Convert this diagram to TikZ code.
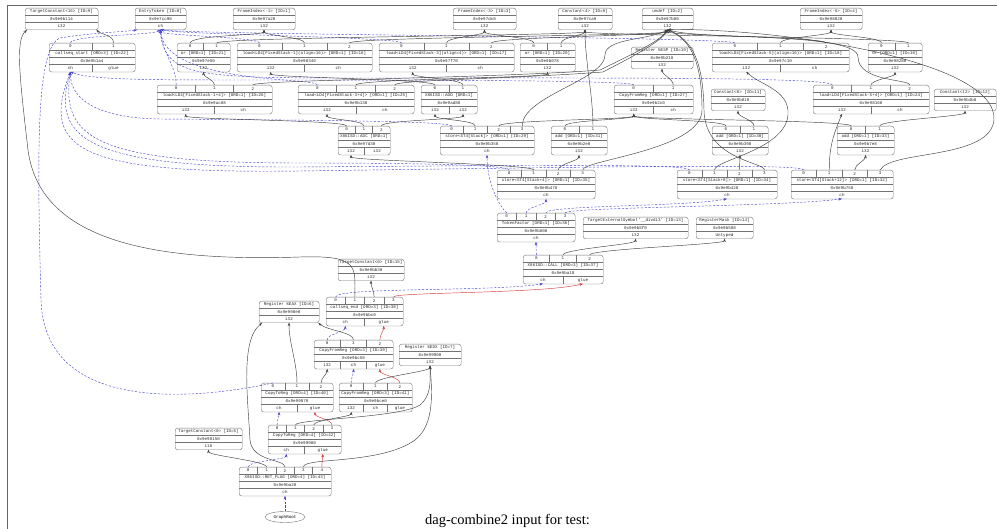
\documentclass[tikz,border=0pt]{standalone}
\usepackage{fontspec}
\newfontfamily\recfont{Liberation Mono}
\newfontfamily\capfont{Liberation Serif}
\usetikzlibrary{shapes.geometric,arrows.meta}
\definecolor{chainblue}{RGB}{70,70,205}
\definecolor{gluered}{RGB}{215,60,60}
\newcommand{\recsize}{\fontsize{4.2}{5}\selectfont}
\newcommand{\rowh}{7.2}
\tikzset{
  recbox/.style={draw=black!55,rounded corners=2.5pt,inner sep=0pt,line width=0.4pt},
  recline/.style={draw=black!55,line width=0.4pt},
  rectxt/.style={font=\recfont\recsize,text=black!85,inner sep=0pt},
  rootnode/.style={ellipse,draw=black!55,minimum width=40pt,minimum height=11pt,inner sep=0pt,font=\recfont\recsize},
  val/.style={draw=black!75,line width=0.45pt,->},
  chain/.style={draw=chainblue,dash pattern=on 2.2pt off 1.6pt,line width=0.45pt,->},
  glue/.style={draw=gluered,line width=0.45pt,->},
  frameline/.style={draw=black!60,line width=0.5pt},
  captxt/.style={font=\capfont\fontsize{14.5}{16}\selectfont,anchor=base,inner sep=0pt}
}
% record: name, left, top, width, number of operands, title, address, results
\newcommand{\recnode}[8]{%
  \pgfmathsetmacro\rl{#2}\pgfmathsetmacro\rt{#3}\pgfmathsetmacro\rw{#4}%
  \ifnum#5>0 \pgfmathsetmacro\rtop{\rt+\rowh}\else\pgfmathsetmacro\rtop{\rt}\fi
  \pgfmathsetmacro\rbot{\rtop+3*\rowh}%
  \pgfmathsetmacro\rht{\rbot-\rt}%
  \pgfmathsetmacro\rc{\rl+\rw/2}%
  \node[recbox,minimum width=\rw pt,minimum height=\rht pt,anchor=north west] (#1) at (\rl,\rt) {};
  \ifnum#5>0
    \draw[recline] (\rl,\rtop) -- ++(\rw,0);
    \foreach \rp in {1,...,#5}{%
      \pgfmathsetmacro\rcl{\rl+(\rp-1)*\rw/#5}%
      \pgfmathtruncatemacro\rj{\rp-1}%
      \node[rectxt] at (\rcl+\rw/#5/2,\rt+\rowh/2) {\rj};
      \coordinate (#1-i\rj) at (\rcl+\rw/#5/2,\rt);
      \ifnum\rp<#5 \draw[recline] (\rcl+\rw/#5,\rt) -- (\rcl+\rw/#5,\rtop);\fi
    }%
  \fi
  \node[rectxt] at (\rc,\rtop+\rowh/2) {#6};
  \draw[recline] (\rl,\rtop+\rowh) -- ++(\rw,0);
  \node[rectxt] at (\rc,\rtop+1.5*\rowh) {#7};
  \draw[recline] (\rl,\rtop+2*\rowh) -- ++(\rw,0);
  \foreach \rout [count=\rk] in {#8}{\xdef\nout{\rk}}%
  \foreach \rout [count=\rk] in {#8}{%
    \pgfmathsetmacro\rcl{\rl+(\rk-1)*\rw/\nout}%
    \pgfmathtruncatemacro\rj{\rk-1}%
    \node[rectxt] at (\rcl+\rw/\nout/2,\rtop+2.5*\rowh) {\rout};
    \coordinate (#1-o\rj) at (\rcl+\rw/\nout/2,\rbot);
    \ifnum\rk<\nout \draw[recline] (\rcl+\rw/\nout,\rtop+2*\rowh) -- (\rcl+\rw/\nout,\rbot);\fi
  }%
}

\begin{document}
\begin{tikzpicture}[x=1pt,y=-1pt,>={Stealth[length=3.5pt,width=2.6pt]}]
  \useasboundingbox (0,0) rectangle (997,529);
  \draw[frameline] (7,529) -- (7,5) -- (997,5);

  % leaves
  \recnode{n9}{25}{8}{73}{0}{TargetConstant<16> [ID=9]}{0x9e9b114}{i32}
  \recnode{n0}{135}{8}{51}{0}{EntryToken [ID=0]}{0x9e7cc90}{ch}
  \recnode{n1}{233}{8}{62}{0}{FrameIndex<-1> [ID=1]}{0x9e97a20}{i32}
  \recnode{n3}{453}{8}{63}{0}{FrameIndex<-3> [ID=3]}{0x9e97dc0}{i32}
  \recnode{n8}{558}{8}{54}{0}{Constant<4> [ID=8]}{0x9e97ca0}{i32}
  \recnode{n2}{642}{8}{51}{0}{undef [ID=2]}{0x9e97b80}{i32}
  \recnode{n4}{800}{8}{62}{0}{FrameIndex<-5> [ID=4]}{0x9e98020}{i32}

  \recnode{n22}{49}{43}{86}{2}{callseq\_start [ORD=3] [ID=22]}{0x9e9b1a4}{ch,glue}
  \recnode{n21}{177}{43}{53}{2}{or [ORD=1] [ID=21]}{0x9e97e50}{i32}
  \recnode{n16}{237}{43}{135}{3}{load<LD4[FixedStack-1](align=16)> [ORD=1] [ID=16]}{0x9e98340}{i32,ch}
  \recnode{n17}{379}{43}{135}{3}{load<LD4[FixedStack-3](align=4)> [ORD=1] [ID=17]}{0x9e97f70}{i32,ch}
  \recnode{n20}{520}{43}{55}{2}{or [ORD=1] [ID=20]}{0x9e9b078}{i32}
  \recnode{n19}{631}{47}{62}{0}{Register \%ESP [ID=19]}{0x9e9b218}{i32}
  \recnode{n18}{712}{43}{137}{3}{load<LD4[FixedStack-5](align=16)> [ORD=1] [ID=18]}{0x9e97c10}{i32,ch}
  \recnode{n10}{868}{43}{54}{2}{or [ORD=1] [ID=10]}{0x9e98280}{i32}

  \recnode{n26}{157}{85}{115}{3}{load<LD4[FixedStack-1+4]> [ORD=1] [ID=26]}{0x9e9ac08}{i32,ch}
  \recnode{n25}{298}{85}{116}{3}{load<LD4[FixedStack-3+4]> [ORD=1] [ID=25]}{0x9e9b130}{i32,ch}
  \recnode{n23}{421}{85}{56}{2}{X86ISD::ADD [ORD=1]}{0x9e9ad80}{i32,i32}
  \recnode{n27}{614}{85}{79}{2}{CopyFromReg [ORD=1] [ID=27]}{0x9e9b2c0}{i32,ch}
  \recnode{n11}{711}{89}{54}{0}{Constant<8> [ID=11]}{0x9e9b010}{i32}
  \recnode{n24}{813}{85}{116}{3}{load<LD4[FixedStack-5+4]> [ORD=1] [ID=24]}{0x9e98160}{i32,ch}
  \recnode{n12}{934}{89}{62}{0}{Constant<12> [ID=12]}{0x9e9b4b8}{i32}

  \recnode{n28}{338}{126}{52}{3}{X86ISD::ADC [ORD=1]}{0x9e97d30}{i32,i32}
  \recnode{n29}{440}{126}{94}{4}{store<ST4[Stack]> [ORD=1] [ID=29]}{0x9e9b358}{ch}
  \recnode{n31}{551}{126}{56}{2}{add [ORD=1] [ID=31]}{0x9e9b2e0}{i32}
  \recnode{n30}{712}{126}{56}{2}{add [ORD=1] [ID=30]}{0x9e9b398}{i32}
  \recnode{n33}{837}{126}{57}{2}{add [ORD=1] [ID=33]}{0x9e9b7e8}{i32}

  \recnode{n35}{497}{170}{98}{4}{store<ST4[Stack+4]> [ORD=1] [ID=35]}{0x9e9b478}{ch}
  \recnode{n34}{677}{170}{100}{4}{store<ST4[Stack+8]> [ORD=1] [ID=34]}{0x9e9b428}{ch}
  \recnode{n32}{791}{170}{102}{4}{store<ST4[Stack+12]> [ORD=1] [ID=32]}{0x9e9b758}{ch}

  \recnode{n36}{497}{213}{78}{4}{TokenFactor [ORD=1] [ID=36]}{0x9e9b608}{ch}
  \recnode{n13}{583}{217}{105}{0}{TargetExternalSymbol'\_\_divdi3' [ID=13]}{0x9e9b5f0}{i32}
  \recnode{n14}{696}{217}{57}{0}{RegisterMask [ID=14]}{0x9e9b588}{Untyped}

  \recnode{n15}{338}{259}{66}{0}{TargetConstant<0> [ID=15]}{0x9e9bb30}{i32}
  \recnode{n37}{523}{255}{80}{3}{X86ISD::CALL [ORD=3] [ID=37]}{0x9e9ba18}{ch,glue}
  \recnode{n6}{259}{301}{60}{0}{Register \%EAX [ID=6]}{0x9e998e0}{i32}
  \recnode{n38}{326}{297}{77}{4}{callseq\_end [ORD=3] [ID=38]}{0x9e9bbc0}{ch,glue}
  \recnode{n39}{314}{340}{79}{3}{CopyFromReg [ORD=3] [ID=39]}{0x9e9bc50}{i32,ch,glue}
  \recnode{n7}{399}{344}{62}{0}{Register \%EDX [ID=7]}{0x9e99900}{i32}
  \recnode{n40}{261}{383}{72}{3}{CopyToReg [ORD=4] [ID=40]}{0x9e99870}{ch,glue}
  \recnode{n41}{339}{383}{73}{3}{CopyFromReg [ORD=3] [ID=41]}{0x9e9bce0}{i32,ch,glue}
  \recnode{n5}{175}{428}{67}{0}{TargetConstant<0> [ID=5]}{0x9e98150}{i16}
  \recnode{n42}{268}{425}{73}{4}{CopyToReg [ORD=4] [ID=42]}{0x9e99980}{ch,glue}
  \recnode{n43}{239}{467}{92}{5}{X86ISD::RET\_FLAG [ORD=4] [ID=43]}{0x9e9ba20}{ch}
  \node[rootnode] (root) at (285,517) {GraphRoot};

  \node[captxt] (cap) at (507.5,524) {dag-combine2 input for test:};

  % chain edges
  \draw[chain] (n22-i0) .. controls +(0,-8) and +(-8,6) .. (n0-o0);
  \draw[chain] (n16-i0) .. controls +(0,-6) and +(0,6) .. (n0-o0);
  \draw[chain] (n17-i0) .. controls +(0,-6) and +(20,5) .. (n0-o0);
  \draw[chain] (n18-i0) .. controls +(0,-6) and +(30,5) .. (n0-o0);
  \draw[chain] (n26-i0) .. controls +(0,-20) and +(0,20) .. (n0-o0);
  \draw[chain] (n25-i0) .. controls +(0,-8) and (165,85) .. (n0-o0);
  \draw[chain] (n24-i0) .. controls +(0,-8) and (600,78) .. (400,78) .. controls (200,78) and (165,80) .. (n0-o0);
  \draw[chain] (n40-i0) .. controls (240,390) and (45,430) .. (41,300) .. controls (37,150) and (36,48) .. (60,38) .. controls (90,33) and (120,32) .. ([xshift=2pt]n0.south west);
  \draw[chain] (n27-i0) .. controls +(0,-5) and (400,80) .. (250,80) .. controls (150,80) and (90,80) .. (n22-o0);
  \draw[chain] (n29-i0) .. controls +(0,-5) and (300,120) .. (160,119) .. controls (90,118) and (70,95) .. (n22-o0);
  \draw[chain] (n35-i0) .. controls +(0,-5) and (420,163) .. (300,163) .. controls (100,163) and (60,140) .. (n22-o0);
  \draw[chain] (n34-i0) .. controls +(0,-6) and (560,165) .. (300,167) .. controls (90,168) and (50,140) .. (n22-o0);
  \draw[chain] (n32-i0) .. controls +(0,-6) and (650,166) .. (300,171) .. controls (80,174) and (40,150) .. (n22-o0);
  \draw[chain] (n36-i0) .. controls +(-10,-10) and +(0,25) .. (n29-o0);
  \draw[chain] (n36-i1) .. controls +(0,-6) and +(0,6) .. (n35-o0);
  \draw[chain] (n36-i2) .. controls +(0,-8) and +(-40,8) .. (n34-o0);
  \draw[chain] (n36-i3) .. controls +(0,-6) and +(-60,8) .. (n32-o0);
  \draw[chain] (n37-i0) .. controls +(0,-5) and +(0,5) .. (n36-o0);
  \draw[chain] (n38-i0) .. controls +(0,-10) and +(-50,8) .. (n37-o0);
  \draw[chain] (n39-i0) .. controls +(0,-6) and +(0,6) .. (n38-o0);
  \draw[chain] (n41-i0) .. controls +(0,-5) and +(0,5) .. (n39-o1);
  \draw[chain] (n42-i0) .. controls +(0,-5) and +(0,5) .. (n40-o0);
  \draw[chain] (n43-i0) .. controls +(0,-6) and +(0,6) .. (n42-o0);
  \draw[chain] (root) -- (n43-o0);

  % glue edges
  \draw[glue] (n38-i3) .. controls +(0,-5) and +(-40,10) .. (n37-o1);
  \draw[glue] (n39-i2) .. controls +(0,-5) and +(0,5) .. (n38-o1);
  \draw[glue] (n41-i2) .. controls +(0,-6) and +(0,6) .. (n39-o2);
  \draw[glue] (n42-i3) .. controls +(0,-6) and +(0,6) .. (n40-o1);
  \draw[glue] (n43-i4) .. controls +(0,-5) and +(0,5) .. (n42-o1);

  % value edges
  \draw[val] (n22-i1) .. controls +(0,-8) and +(6,5) .. ([xshift=-2pt]n9.south east);
  \draw[val] (n38-i1) .. controls +(0,-30) and (360,255) .. (300,257) .. controls (150,262) and (40,240) .. (28,150) .. controls (20,80) and (15,40) .. ([xshift=2pt]n9.south west);
  \draw[val] (n38-i2) .. controls +(0,-6) and +(0,6) .. (n15-o0);
  \draw[val] (n21-i0) .. controls +(0,-8) and +(0,6) .. (n1-o0);
  \draw[val] (n21-i1) .. controls +(0,-6) and +(0,6) .. (n8-o0);
  \draw[val] (n16-i1) .. controls +(0,-6) and +(0,6) .. (n1-o0);
  \draw[val] (n16-i2) .. controls +(0,-6) and +(0,6) .. (n2-o0);
  \draw[val] (n17-i1) .. controls +(0,-6) and +(0,6) .. (n3-o0);
  \draw[val] (n17-i2) .. controls +(0,-6) and +(0,6) .. (n2-o0);
  \draw[val] (n20-i0) .. controls +(0,-6) and +(0,6) .. (n3-o0);
  \draw[val] (n20-i1) .. controls +(0,-6) and +(0,6) .. (n8-o0);
  \draw[val] (n18-i1) .. controls +(0,-6) and +(0,6) .. (n4-o0);
  \draw[val] (n18-i2) .. controls +(0,-6) and +(0,6) .. (n2-o0);
  \draw[val] (n10-i0) .. controls +(0,-6) and +(0,6) .. (n4-o0);
  \draw[val] (n10-i1) .. controls +(0,-6) and +(0,6) .. (n8-o0);
  \draw[val] (n26-i1) .. controls +(0,-5) and +(0,5) .. (n21-o0);
  \draw[val] (n26-i2) .. controls +(0,-5) and (500,78) .. (600,70) .. controls (620,60) and (660,42) .. (n2-o0);
  \draw[val] (n25-i1) .. controls +(0,-6) and +(0,6) .. (n20-o0);
  \draw[val] (n25-i2) .. controls +(0,-5) and (510,79) .. (603,72) .. controls (622,62) and (662,42) .. (n2-o0);
  \draw[val] (n24-i1) .. controls +(0,-5) and +(0,5) .. (n10-o0);
  \draw[val] (n24-i2) .. controls +(0,-6) and (858,82) .. (858,57) .. controls (858,32) and (700,40) .. (n2-o0);
  \draw[val] (n23-i0) .. controls +(0,-6) and +(0,6) .. (n16-o0);
  \draw[val] (n23-i1) .. controls +(0,-6) and +(0,6) .. (n17-o0);
  \draw[val] (n28-i0) .. controls +(0,-6) and +(0,6) .. (n26-o0);
  \draw[val] (n28-i1) .. controls +(0,-6) and +(0,6) .. (n25-o0);
  \draw[val] (n28-i2) .. controls +(0,-6) and +(0,6) .. (n23-o1);
  \draw[val] (n27-i1) .. controls +(0,-6) and +(0,6) .. (n19-o0);
  \draw[val] (n31-i0) .. controls +(0,-6) and +(0,6) .. (n27-o0);
  \draw[val] (n31-i1) .. controls +(0,-30) and +(0,30) .. (n8-o0);
  \draw[val] (n30-i0) .. controls +(0,-6) and +(0,6) .. (n27-o0);
  \draw[val] (n30-i1) .. controls +(0,-6) and +(0,6) .. (n11-o0);
  \draw[val] (n33-i0) .. controls +(0,-6) and +(0,6) .. (n27-o0);
  \draw[val] (n33-i1) .. controls +(0,-6) and +(0,6) .. (n12-o0);
  \draw[val] (n29-i1) .. controls +(0,-6) and +(0,6) .. (n23-o0);
  \draw[val] (n29-i2) .. controls +(0,-6) and +(0,6) .. (n27-o0);
  \draw[val] (n29-i3) .. controls +(0,-30) and (605,80) .. (605,55) .. controls (605,38) and (650,40) .. (n2-o0);
  \draw[val] (n35-i1) .. controls +(0,-6) and +(0,6) .. (n28-o0);
  \draw[val] (n35-i2) .. controls +(0,-6) and +(0,6) .. (n31-o0);
  \draw[val] (n35-i3) .. controls +(0,-10) and (702,150) .. (702,110) .. controls (702,60) and (690,40) .. (n2-o0);
  \draw[val] (n34-i1) .. controls +(0,-10) and (785,150) .. (788,115) .. controls (790,90) and (760,85) .. (n18-o0);
  \draw[val] (n34-i2) .. controls +(0,-5) and +(0,5) .. (n30-o0);
  \draw[val] (n34-i3) .. controls +(0,-8) and (705,160) .. (704,110) .. controls (703,60) and (692,40) .. (n2-o0);
  \draw[val] (n32-i1) .. controls +(0,-25) and +(-8,20) .. (n24-o0);
  \draw[val] (n32-i2) .. controls +(0,-6) and +(0,6) .. (n33-o0);
  \draw[val] (n32-i3) .. controls (890,150) and (990,160) .. (994,120) .. controls (998,60) and (780,28) .. (n2-o0);
  \draw[val] (n37-i1) .. controls +(0,-6) and +(0,6) .. (n13-o0);
  \draw[val] (n37-i2) .. controls +(0,-6) and +(0,6) .. (n14-o0);
  \draw[val] (n39-i1) .. controls +(0,-8) and +(10,8) .. ([xshift=-1pt]n6.south east);
  \draw[val] (n40-i1) .. controls +(0,-20) and +(0,20) .. (n6-o0);
  \draw[val] (n40-i2) .. controls +(0,-5) and +(0,5) .. (n39-o0);
  \draw[val] (n41-i1) .. controls +(0,-6) and +(0,6) .. (n7-o0);
  \draw[val] (n42-i1) .. controls +(0,-6) and (400,418) .. (420,405) .. controls (432,395) and (430,380) .. (n7-o0);
  \draw[val] (n42-i2) .. controls +(0,-5) and +(0,5) .. (n41-o0);
  \draw[val] (n43-i1) .. controls +(0,-6) and +(0,6) .. (n5-o0);
  \draw[val] (n43-i2) .. controls +(0,-8) and (252,462) .. (250,440) .. controls (248,400) and (240,340) .. ([xshift=3pt]n6.south west);
  \draw[val] (n43-i3) .. controls +(0,-10) and (380,465) .. (415,440) .. controls (435,425) and (432,390) .. (n7-o0);
\end{tikzpicture}
\end{document}
